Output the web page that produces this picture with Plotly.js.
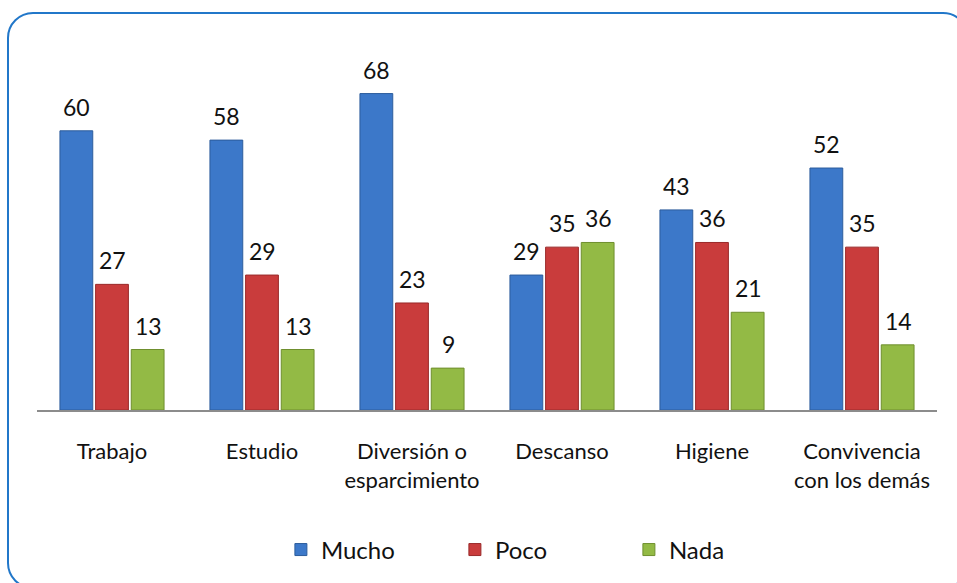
<!DOCTYPE html>
<html>
<head>
<meta charset="utf-8">
<script src="https://cdn.plot.ly/plotly-3.0.1.min.js"></script>
<style>
  html, body { margin: 0; padding: 0; background: #ffffff; overflow: hidden; }
  #wrap { position: relative; width: 957px; height: 583px; overflow: hidden; }
  #frame { position: absolute; left: 7px; top: 12px; width: 962px; height: 577px;
           border: 2.5px solid #2177c9; border-radius: 26px; box-sizing: border-box; }
  #chart { position: absolute; left: 0; top: 0; width: 957px; height: 583px; }
</style>
</head>
<body>
<div id="wrap">
  <div id="frame"></div>
  <div id="chart"></div>
</div>
<script>
const categories = ["Trabajo", "Estudio", "Diversión o<br>esparcimiento", "Descanso", "Higiene", "Convivencia<br>con los demás"];
const seriesNames = ["Mucho", "Poco", "Nada"];
const mucho = [60, 58, 68, 29, 43, 52];
const poco = [27, 29, 23, 35, 36, 35];
const nada = [13, 13, 9, 36, 21, 14];

const seriesValues = [mucho, poco, nada];
const fills = ["#3c78c9", "#c93c3c", "#93ba45"];
const edges = ["#2c5c9c", "#9a2a2a", "#6f8f2e"];
const FONT = "Lato, 'Open Sans', sans-serif";

const traces = seriesValues.map((vals, i) => ({
  type: "bar",
  name: seriesNames[i],
  x: categories,
  y: vals,
  marker: { color: fills[i], line: { color: edges[i], width: 1 } },
  hoverinfo: "skip"
}));

const shifts = [-36, 0, 36];
const annotations = [];
seriesValues.forEach((vals, i) => {
  vals.forEach((v, j) => {
    annotations.push({
      x: categories[j], y: v, xref: "x", yref: "y",
      text: String(v), showarrow: false,
      xanchor: "center", yanchor: "bottom",
      xshift: shifts[i], yshift: 8,
      font: { family: FONT, size: 23, color: "#111111" }
    });
  });
});

const layout = {
  width: 957, height: 583,
  margin: { l: 37, r: 20, t: 61, b: 172 },
  paper_bgcolor: "rgba(0,0,0,0)",
  plot_bgcolor: "rgba(0,0,0,0)",
  barmode: "group",
  bargap: 0.287,
  bargroupgap: 0.08,
  font: { family: FONT, color: "#111111" },
  xaxis: {
    showline: true, linecolor: "#8c8c8c", linewidth: 2,
    ticks: "", showgrid: false, zeroline: false,
    tickfont: { family: FONT, size: 22, color: "#111111" },
    ticklabelstandoff: 21
  },
  yaxis: { visible: false, range: [0, 75], showgrid: false, zeroline: false },
  showlegend: true,
  legend: {
    orientation: "h", x: 0.271, xanchor: "left", y: -0.397, yanchor: "middle",
    font: { family: FONT, size: 24, color: "#111111" },
    entrywidth: 129, entrywidthmode: "pixels",
    bgcolor: "rgba(0,0,0,0)"
  },
  annotations: annotations
};

Plotly.newPlot("chart", traces, layout, { displayModeBar: false, staticPlot: true });
</script>
</body>
</html>
